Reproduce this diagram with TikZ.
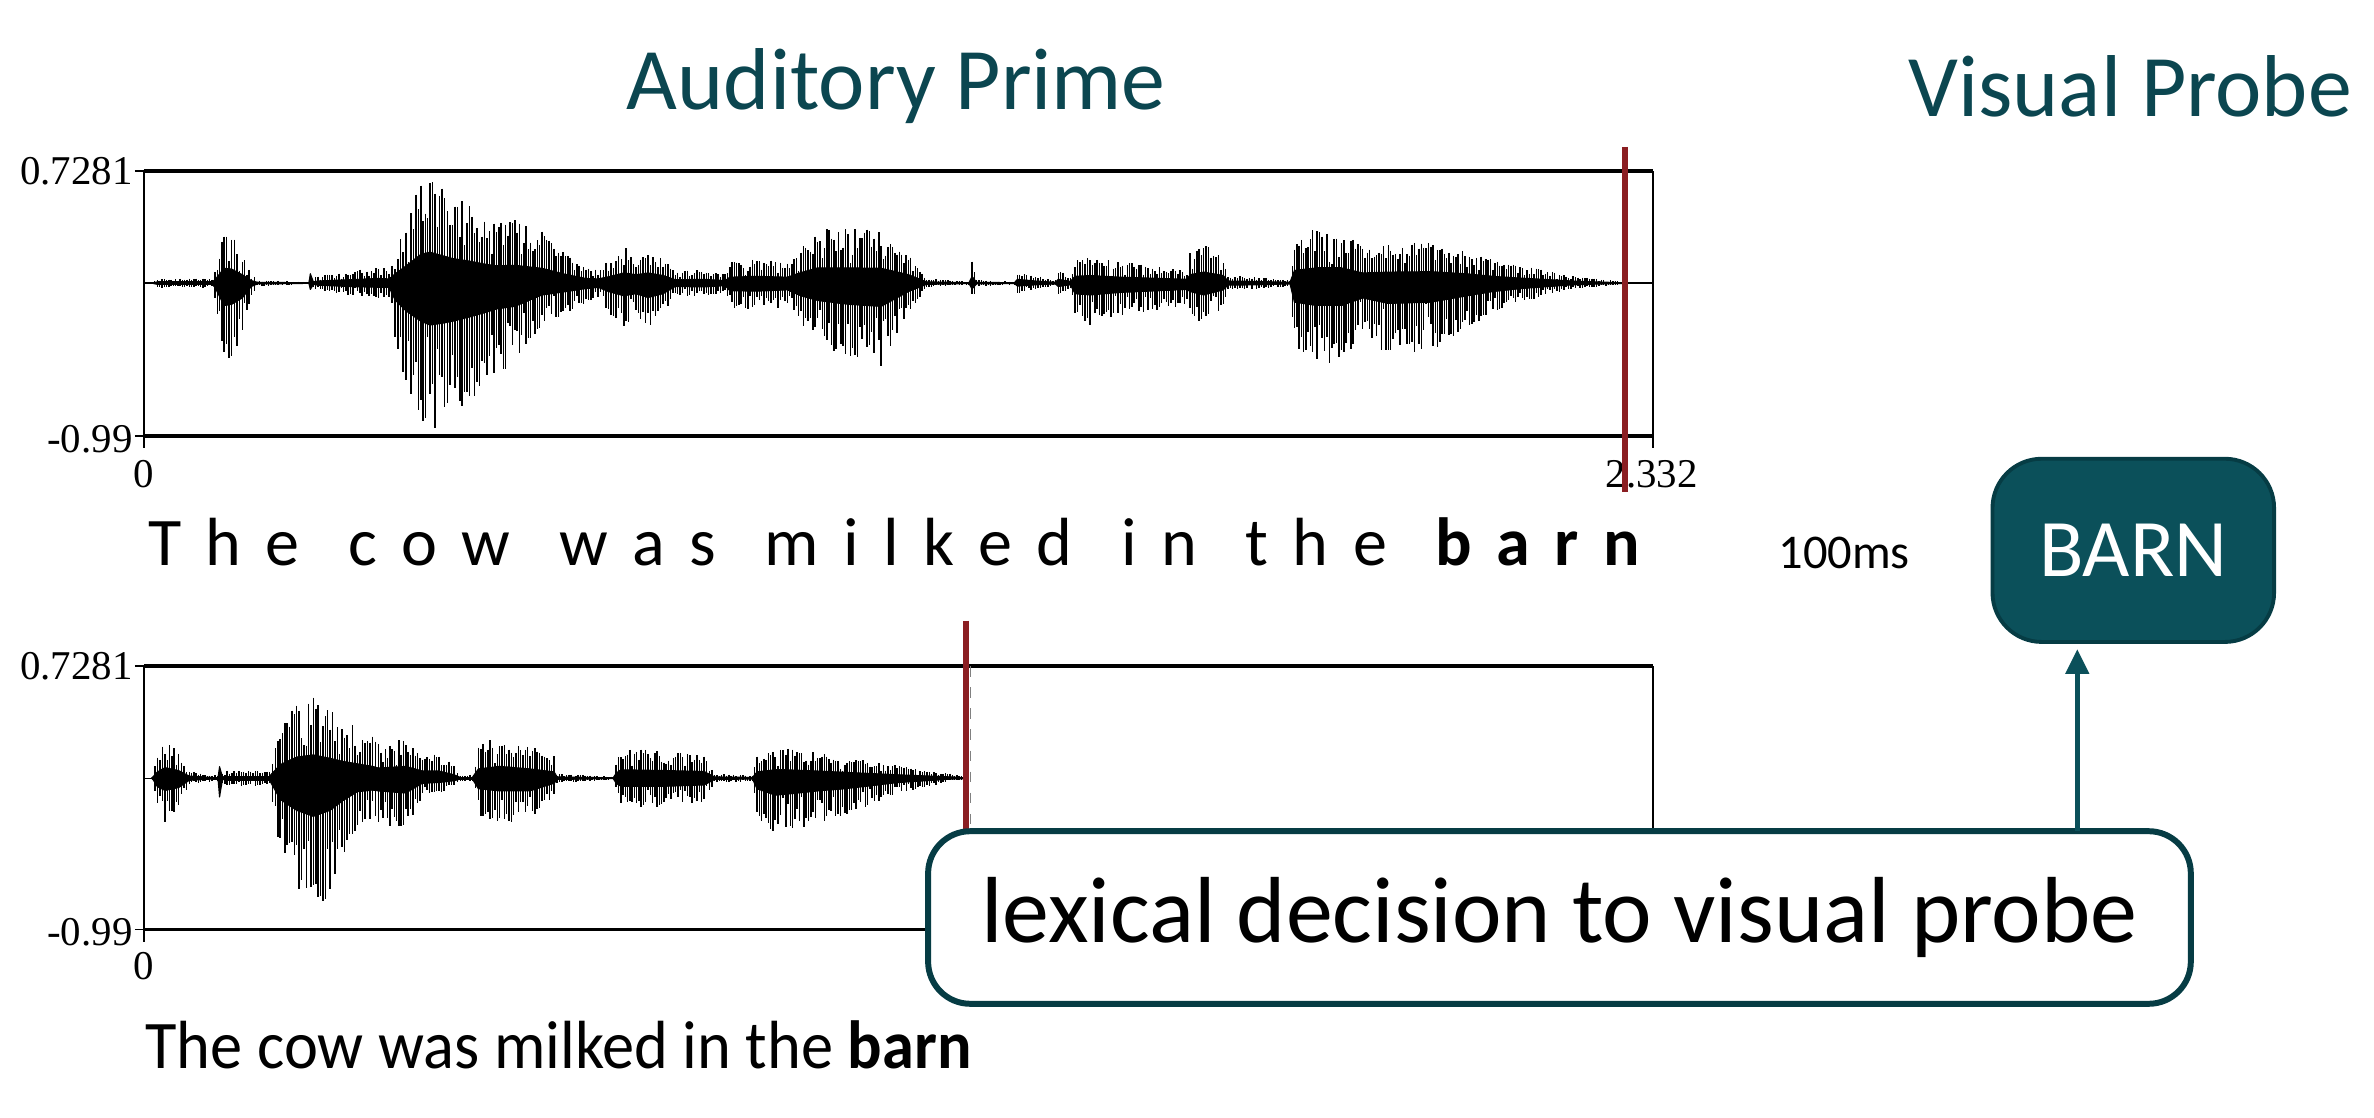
\documentclass[tikz,border=0pt]{standalone}
\usepackage{fontspec}
\setmainfont{Liberation Serif}
\setsansfont{Carlito}
\usetikzlibrary{arrows.meta}
\newdimen\pxu \pxu=0.4308pt
\newcommand\pxf[1]{\fontsize{#1\pxu}{#1\pxu}\selectfont}
\definecolor{tealtxt}{HTML}{0B4650}
\definecolor{tealfill}{HTML}{0B505A}
\definecolor{tealdark}{HTML}{063C44}
\definecolor{cursorred}{HTML}{8B1E22}
\newcommand\wavedraw[2]{%
  \foreach \cx/\cu/\cd [remember=\cx as \px (initially 100), remember=\cu as \pu (initially 0), remember=\cd as \pd (initially 0)] in {#2}{%
    \filldraw[wavecore] (\px,{#1-0.28*\pu}) -- (\cx,{#1-0.28*\cu}) -- (\cx,{#1+0.28*\cd}) -- (\px,{#1+0.28*\pd}) -- cycle;
    \pgfmathtruncatemacro\n{max(0,(\cx-\px)/1.5)}%
    \ifnum\n>0
    \foreach \k in {1,...,\n}{%
      \pgfmathsetmacro\tt{\k/\n}%
      \pgfmathsetmacro\xx{\px+\tt*(\cx-\px)}%
      \pgfmathsetmacro\uu{\pu+\tt*(\cu-\pu)}%
      \pgfmathsetmacro\dd{\pd+\tt*(\cd-\pd)}%
      \pgfmathsetmacro\yu{#1-\uu*(0.3+0.7*sqrt(rnd))}%
      \pgfmathsetmacro\yd{#1+\dd*(0.3+0.7*sqrt(rnd))}%
      \draw[wavestroke] (\xx,\yu) -- (\xx,\yd);
    }%
    \fi
  }%
}
\begin{document}
\begin{tikzpicture}[x=0.4308pt,y=-0.4308pt,
  title/.style={font=\sffamily\pxf{58}, text=tealtxt, inner sep=0pt},
  axlabel/.style={font=\rmfamily\pxf{27}, inner sep=0pt},
  sentence/.style={font=\sffamily\pxf{45}, inner sep=0pt},
  wavestroke/.style={line width=0.42pt, black},
  wavecore/.style={line width=0.3pt, black, fill=black, line join=round},
  frameh/.style={line width=1pt, black},
  framev/.style={line width=0.5pt, black},
  cursorline/.style={line width=1.7pt, cursorred},
  probebox/.style={draw=tealdark, fill=tealfill, line width=1.1pt, rounded corners=14pt,
     minimum width=186\pxu, minimum height=121\pxu, inner sep=0pt, text=white, font=\sffamily\pxf{54}},
  taskbox/.style={draw=tealdark, fill=white, line width=1.7pt, rounded corners=12pt,
     minimum width=834\pxu, minimum height=114\pxu, inner sep=0pt, font=\sffamily\pxf{62}},
  probearrow/.style={draw=tealfill, line width=1.3pt, -{Triangle[length=7pt,width=6.5pt]}, shorten >=1.5pt}
]
\useasboundingbox (0,0) rectangle (1568,738);
\pgfmathsetseed{7}

% titles
\node[title] (tA) at (592,57) {Auditory Prime};
\node[title] (tV) at (1407,57) {Visual Probe};

% ---------- top panel ----------
\draw[line width=0.4pt] (95,187) -- (1092,187);
\wavedraw{187}{100/0/0, 104/3/3, 140/3/3, 142/8/10, 148/35/53, 153/33/50, 160/20/35, 166/6/8, 170/2/2,
  200/1/1, 204/1/1, 205/22/15, 207/3/3, 210/5/5, 230/8/8, 250/11/10, 257/10/10, 261/22/40,
  268/40/65, 278/68/90, 284/73/99, 292/65/95, 299/58/90, 310/52/80, 320/45/70, 328/41/61,
  340/42/55, 358/35/28, 372/22/21, 387/11/13, 395/10/10, 402/15/20, 412/24/30, 420/20/25,
  428/24/34, 438/18/25, 446/8/8, 465/9/9, 479/6/6, 482/14/18, 500/16/19, 520/14/16,
  529/25/30, 540/36/41, 560/36/50, 582/35/55, 600/20/20, 612/3/3, 640/1/1, 642/16/14,
  645/2/2, 670/1/1, 672/9/7, 684/5/4, 697/2/2, 699/9/8, 707/4/4, 710/16/25, 720/18/28,
  740/14/22, 784/9/15, 786/20/20, 795/26/28, 808/18/16, 811/5/5, 830/4/4, 852/2/2,
  855/30/45, 870/36/53, 886/36/53, 900/24/35, 917/26/48, 945/27/45, 969/22/30, 986/16/20,
  1004/12/13, 1039/5/4, 1070/1/1, 1090/0/0}
\draw[frameh] (95,113) -- (1092,113);
\draw[frameh] (95,288) -- (1092,288);
\draw[framev] (95,113) -- (95,296);
\draw[framev] (1092,113) -- (1092,296);
\draw[framev] (89,113) -- (95,113);
\draw[framev] (89,288) -- (95,288);
\node[axlabel, anchor=east] (t1) at (88,113) {0.7281};
\node[axlabel, anchor=east] (b1) at (88,290) {-0.99};
\node[axlabel] (z1) at (95,313) {0};
\node[axlabel] (e1) at (1091,313) {2.332};
\draw[cursorline] (1073,97) -- (1073,325);

\node[sentence] (s1) at (590.5,358) {\makebox[985\pxu][s]{T\hfill h\hfill e\hfill\hfill c\hfill o\hfill w\hfill\hfill w\hfill a\hfill s\hfill\hfill m\hfill i\hfill l\hfill k\hfill e\hfill d\hfill\hfill i\hfill n\hfill\hfill t\hfill h\hfill e\hfill\hfill \textbf{b}\hfill\textbf{a}\hfill\textbf{r}\hfill\textbf{n}}};
\node[font=\sffamily\pxf{32}, inner sep=0pt] (ms) at (1218,365) {100ms};

% ---------- bottom panel ----------
\draw[line width=0.4pt] (95,514) -- (640,514);
\wavedraw{514}{100/0/0, 101/3/3, 104/15/20, 109/25/29, 118/18/22, 125/5/5, 140/2/2, 144/2/2,
  145/27/44, 147/3/3, 150/5/5, 178/5/5, 182/20/30, 185/32/50, 196/50/76, 207/55/90,
  218/47/76, 226/40/54, 236/34/32, 246/28/28, 250/24/30, 268/28/35, 279/17/12, 290/17/10,
  300/8/6, 304/2/2, 312/2/2, 316/22/25, 330/28/30, 350/22/30, 366/15/12, 368/3/3,
  405/1/1, 407/12/12, 410/20/19, 440/18/19, 465/16/16, 472/3/3, 497/2/2, 500/15/25,
  512/20/40, 519/20/38, 540/17/30, 558/14/25, 594/8/10, 629/3/2, 638/1/1}
\draw[frameh] (95,440) -- (1092,440);
\draw[frameh] (95,614) -- (1092,614);
\draw[framev] (95,440) -- (95,622);
\draw[framev] (1092,440) -- (1092,614);
\draw[framev] (89,440) -- (95,440);
\draw[framev] (89,614) -- (95,614);
\node[axlabel, anchor=east] (t2) at (88,440) {0.7281};
\node[axlabel, anchor=east] (b2) at (88,616) {-0.99};
\node[axlabel] (z2) at (95,638) {0};
\draw[line width=0.3pt, gray, dashed] (641,440) -- (641,555);
\draw[cursorline] (638,410) -- (638,555);

\node[sentence, font=\sffamily\pxf{45}] (s2) at (369,690) {\scalebox{0.945}[1]{The cow was milked in the \textbf{barn}}};

% ---------- probe & task ----------
\node[probebox] (barn) at (1409,363.5) {BARN};
\node[taskbox] (lex) at (1030,606) {lexical decision to visual probe};
\coordinate (aS) at (1372,549);
\draw[probearrow] (aS) -- (aS |- barn.south);
\end{tikzpicture}
\end{document}
